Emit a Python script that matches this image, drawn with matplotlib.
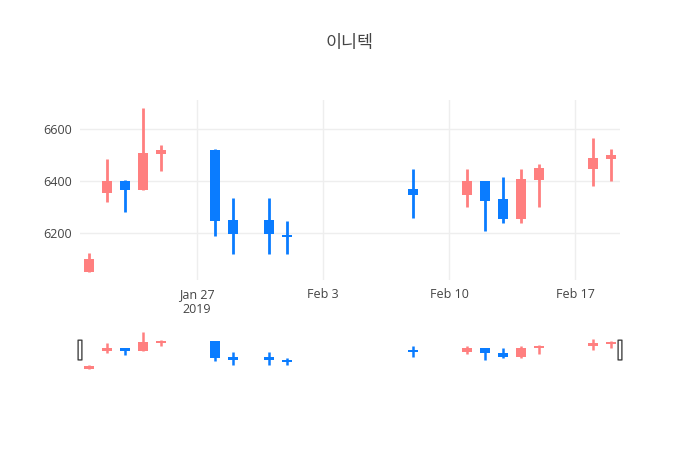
import numpy as np
import matplotlib
matplotlib.use('Agg')
import matplotlib.pyplot as plt
import matplotlib.dates as mdates
from matplotlib.patches import FancyBboxPatch

plt.rcParams['font.family'] = ['Open Sans', 'Noto Sans CJK KR', 'DejaVu Sans']

# Dades OHLC llegides del gràfic
dates = ['2019-01-21', '2019-01-22', '2019-01-23', '2019-01-24', '2019-01-25',
         '2019-01-28', '2019-01-29', '2019-01-31', '2019-02-01', '2019-02-08',
         '2019-02-11', '2019-02-12', '2019-02-13', '2019-02-14', '2019-02-15',
         '2019-02-18', '2019-02-19']
opens  = [6050, 6355, 6400, 6365, 6505, 6520, 6250, 6250, 6192, 6370,
          6345, 6400, 6330, 6255, 6405, 6445, 6485]
highs  = [6125, 6487, 6405, 6680, 6540, 6525, 6335, 6335, 6245, 6445,
          6445, 6400, 6415, 6445, 6465, 6565, 6525]
lows   = [6050, 6318, 6280, 6365, 6440, 6190, 6120, 6120, 6120, 6260,
          6300, 6210, 6240, 6240, 6300, 6380, 6400]
closes = [6100, 6400, 6365, 6510, 6520, 6245, 6195, 6195, 6185, 6345,
          6400, 6325, 6255, 6410, 6450, 6490, 6500]

tick_dates  = ['2019-01-27', '2019-02-03', '2019-02-10', '2019-02-17']
tick_labels = ['Jan 27\n2019', 'Feb 3', 'Feb 10', 'Feb 17']
y_ticks = [6200, 6400, 6600]

UP_COLOR   = '#ff7f7f'
DOWN_COLOR = '#0a7cff'
TEXT_COLOR = '#444444'

x = mdates.datestr2num(dates)
o, h, l, c = map(np.array, (opens, highs, lows, closes))
colors = [UP_COLOR if cc >= oo else DOWN_COLOR for oo, cc in zip(o, c)]
x_min = mdates.datestr2num('2019-01-20') + 0.5
x_max = mdates.datestr2num('2019-02-19') + 0.5


def draw_candles(ax, wick_lw, min_body):
    ax.vlines(x, l, h, colors=colors, linewidth=wick_lw, zorder=2)
    mid = (o + c) / 2
    body_height = np.maximum(np.abs(c - o), min_body)
    ax.bar(x, body_height, bottom=mid - body_height / 2, width=0.6, color=colors,
           linewidth=0, zorder=3)
    ax.set_xlim(x_min, x_max)
    for s in ax.spines.values():
        s.set_visible(False)


fig = plt.figure(figsize=(7, 4.5), dpi=100)

# Gràfic principal
ax = fig.add_axes([80 / 700, 170 / 450, 540 / 700, 180 / 450])
draw_candles(ax, 2, 7)
ax.set_ylim(6020, 6712)
ax.set_yticks(y_ticks)
ax.set_xticks(mdates.datestr2num(tick_dates))
ax.set_xticklabels(tick_labels)
ax.tick_params(length=0, labelsize=9, labelcolor=TEXT_COLOR, pad=6)
ax.grid(True, color='#eeeeee', linewidth=1, zorder=0)
ax.set_axisbelow(True)

fig.text(0.5, 1 - 43 / 450, '이니텍', ha='center', va='center',
         fontsize=12.5, color=TEXT_COLOR, family=['Noto Sans CJK KR', 'DejaVu Sans'])

# Range slider
ax_s = fig.add_axes([80 / 700, 77 / 450, 540 / 700, 45 / 450])
draw_candles(ax_s, 1.8, 45)
ax_s.set_ylim(5982, 6748)
ax_s.set_xticks([])
ax_s.set_yticks([])

for xf in (0.0, 1.0):
    handle = FancyBboxPatch((xf - 0.0035, 0.29), 0.007, 0.44,
                            boxstyle='round,pad=0,rounding_size=0.003',
                            transform=ax_s.transAxes, facecolor='white',
                            edgecolor='#444444', linewidth=1, clip_on=False, zorder=5)
    ax_s.add_patch(handle)

fig.savefig('out.png', dpi=100)
